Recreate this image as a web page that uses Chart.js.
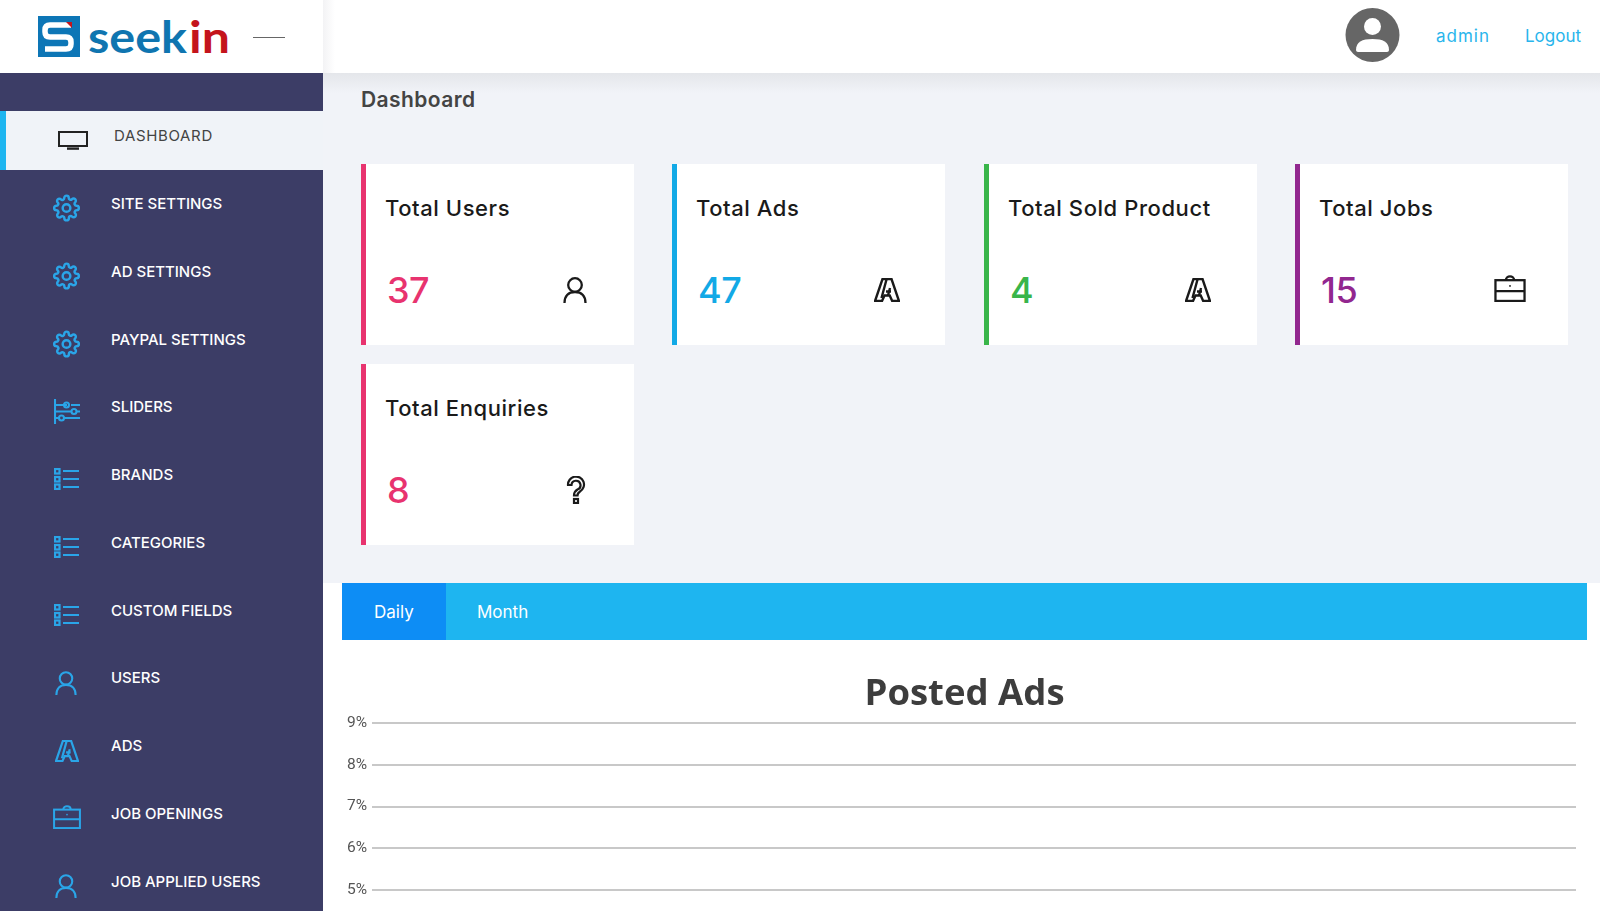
<!DOCTYPE html>
<html><head><meta charset="utf-8"><title>Dashboard</title>
<script src="https://cdn.jsdelivr.net/npm/chart.js@4/dist/chart.umd.min.js"></script>
<style>
html,body{margin:0;padding:0;width:1600px;height:911px;overflow:hidden;background:#f1f3f8;font-family:Inter,"Open Sans",sans-serif}
.a{position:absolute}
.t{position:absolute;white-space:nowrap;transform:translateY(-50%);line-height:1}
#side{left:0;top:73px;width:323px;height:838px;background:#3c3d66}
#head{left:0;top:0;width:1600px;height:73px;background:#fff}
#headshadow{left:323px;top:73px;width:1277px;height:20px;background:linear-gradient(#e4e6ea,#f1f3f8)}
#logoedge{left:323px;top:0;width:12px;height:73px;background:linear-gradient(90deg,#f3f3f5,#fff)}
#active{left:0;top:111px;width:323px;height:59px;background:#f0f3f8}
#accent{left:0;top:111px;width:6px;height:59px;background:#1eb5f0}
.m{color:#fff;font-size:15px;font-weight:500;letter-spacing:0;left:111px}
.card{position:absolute;background:#fff;height:181px;width:273px}
.bar{position:absolute;left:0;top:0;width:5px;height:100%}
.ct{color:#1a1a1a;font-size:22px;font-weight:500;letter-spacing:.57px}
.cn{font-size:36px;font-weight:500;letter-spacing:-.5px}
#panel{left:323px;top:583px;width:1277px;height:328px;background:#fff}
#tabs{left:342px;top:583px;width:1245px;height:57px;background:#1eb5f0}
#tabd{left:342px;top:583px;width:104px;height:57px;background:#0d8df5}
svg.i{position:absolute;overflow:visible}
#wrap{position:absolute;left:342px;top:640px;width:1245px;height:271px}
</style></head><body>
<svg width="0" height="0" style="position:absolute"><defs>
<symbol id="gear" viewBox="0 0 24 24"><circle cx="12" cy="12" r="3.4" fill="none" stroke="currentColor" stroke-width="2.2"/><path fill="none" stroke="currentColor" stroke-width="2.2" d="M19.4 15a1.65 1.65 0 0 0 .33 1.82l.06.06a2 2 0 0 1 0 2.83 2 2 0 0 1-2.83 0l-.06-.06a1.65 1.65 0 0 0-1.82-.33 1.65 1.65 0 0 0-1 1.51V21a2 2 0 0 1-2 2 2 2 0 0 1-2-2v-.09A1.65 1.65 0 0 0 9 19.4a1.65 1.65 0 0 0-1.82.33l-.06.06a2 2 0 0 1-2.83 0 2 2 0 0 1 0-2.83l.06-.06a1.65 1.65 0 0 0 .33-1.82 1.65 1.65 0 0 0-1.51-1H3a2 2 0 0 1-2-2 2 2 0 0 1 2-2h.09A1.65 1.65 0 0 0 4.6 9a1.65 1.65 0 0 0-.33-1.82l-.06-.06a2 2 0 0 1 0-2.83 2 2 0 0 1 2.83 0l.06.06a1.65 1.65 0 0 0 1.82.33H9a1.65 1.65 0 0 0 1-1.51V3a2 2 0 0 1 2-2 2 2 0 0 1 2 2v.09a1.65 1.65 0 0 0 1 1.51 1.65 1.65 0 0 0 1.82-.33l.06-.06a2 2 0 0 1 2.83 0 2 2 0 0 1 0 2.83l-.06.06a1.65 1.65 0 0 0-.33 1.82V9a1.65 1.65 0 0 0 1.51 1H21a2 2 0 0 1 2 2 2 2 0 0 1-2 2h-.09a1.65 1.65 0 0 0-1.51 1z"/></symbol>
<symbol id="monitor" viewBox="0 0 30 19"><rect x="1" y="1" width="28" height="14" fill="none" stroke="currentColor" stroke-width="2"/><path d="M9 17.600h12" stroke="currentColor" stroke-width="2.400"/></symbol>
<symbol id="sliders" viewBox="0 0 26 25"><g fill="none" stroke="currentColor" stroke-width="2.100"><path d="M1 0v25M1 6h12M17 6h9M1 12.500h17M22 12.500h4M1 19h5M10 19h16"/><circle cx="12.500" cy="6" r="2.500"/><circle cx="20" cy="12.500" r="2.500"/><circle cx="7.500" cy="19" r="2.500"/></g></symbol>
<symbol id="list" viewBox="0 0 25 22"><g fill="none" stroke="currentColor" stroke-width="2.200"><rect x="1" y="1" width="4.500" height="4.500"/><rect x="1" y="9" width="4.500" height="4.500"/><rect x="1" y="16.500" width="4.500" height="4.500"/><path d="M9 3h16M9 11h16M9 19h16"/></g></symbol>
<symbol id="user" viewBox="0 0 24 26"><g fill="none" stroke="currentColor" stroke-width="2.300"><circle cx="12" cy="8" r="6.800"/><path d="M1.500 26c0-7 4-11 10.500-11s10.500 4 10.500 11"/></g></symbol>
<symbol id="ad" viewBox="0 0 26 24"><g fill="none" stroke="currentColor" stroke-width="2.400" stroke-linejoin="miter"><path d="M8.500 1h9l7.500 22h-6.800l-2.500-5.500H10.500L8 23H1z"/><path d="M12.500 1.500L7.500 20M16 10l-2 7.500M12 13.500h5"/></g></symbol>
<symbol id="case" viewBox="0 0 30 26"><g fill="none" stroke="currentColor" stroke-width="2.200"><rect x="1" y="5" width="28" height="20"/><path d="M1 15.500h28M11 5c0-5 8-5 8 0"/></g><circle cx="15" cy="10.500" r=".9" fill="currentColor"/></symbol>
<symbol id="q" viewBox="0 0 20 28"><g fill="none" stroke="currentColor" stroke-width="2.200"><path d="M2 9a8 8 0 1 1 12 6.500c-2 1.300-2.500 2-2.500 4h-3.500c0-3.500 1-4.500 3.500-6a4.500 4.500 0 1 0-6-4.500z"/><rect x="8" y="23" width="4" height="4"/></g></symbol>
</defs></svg>

<div class="a" id="head"></div>
<div class="a" id="logoedge"></div>
<div class="a" id="headshadow"></div>
<div class="a" id="side"></div>
<div class="a" id="active"></div>
<div class="a" id="accent"></div>

<svg class="i" style="left:38px;top:16px" width="191" height="42" viewBox="0 0 191 42">
  <rect x="0" y="0" width="42" height="41" fill="#0d76b6"/>
  <path d="M33 9H12Q7 9 7 14V16Q7 21 12 21H28Q33 21 33 26V28Q33 33 28 33H7" fill="none" stroke="#fff" stroke-width="5.500"/>
  <path d="M28 6h6v6z" fill="#c4141c"/>
  <text x="50" y="37" font-family="Lato" font-size="44" font-weight="700" fill="#0f75b0" textLength="99" lengthAdjust="spacingAndGlyphs">seek</text>
  <text x="151" y="37" font-family="Lato" font-size="44" font-weight="700" fill="#c4141c" textLength="41" lengthAdjust="spacingAndGlyphs">in</text>
</svg>
<div class="a" style="left:253px;top:37px;width:32px;height:1px;background:#666"></div>

<svg class="i" style="left:1345px;top:8px" width="55" height="54" viewBox="0 0 55 54"><circle cx="27.500" cy="27" r="27" fill="#666"/><circle cx="27.500" cy="18.500" r="8.500" fill="#fff"/><path d="M11 42c0-8 6-11 16.500-11s16.500 3 16.500 11c0 1-1 2-2 2H13c-1 0-2-1-2-2z" fill="#fff"/></svg>
<div class="t" style="left:1436px;top:36px;color:#29b5ec;font-size:17px;letter-spacing:1px">admin</div>
<div class="t" style="left:1525px;top:36px;color:#29b5ec;font-size:17px">Logout</div>
<div class="t" style="left:361px;top:99px;color:#444;font-size:21px;font-weight:600;letter-spacing:.43px">Dashboard</div>

<div class="a" id="panel"></div>
<div class="a" id="tabs"></div>
<div class="a" id="tabd"></div>
<div class="t" style="left:374px;top:612px;color:#fff;font-size:17px">Daily</div>
<div class="t" style="left:477px;top:612px;color:#fff;font-size:17px">Month</div>
<div id="wrap"><canvas id="c" width="1245" height="271"></canvas></div>

<script>
const menuLabels=["DASHBOARD","SITE SETTINGS","AD SETTINGS","PAYPAL SETTINGS","SLIDERS","BRANDS","CATEGORIES","CUSTOM FIELDS","USERS","ADS","JOB OPENINGS","JOB APPLIED USERS"];
const menuY=[135,203,271,339,406,474,542,610,677,745,813,881];
const menuIcons=[["monitor",58,131,30,19],["gear",53,194,27,28],["gear",53,262,27,28],["gear",53,330,27,28],["sliders",54,399,26,25],["list",54,468,25,22],["list",54,536,25,22],["list",54,604,25,22],["user",55,671,22,24],["ad",55,740,24,22],["case",53,805,28,24],["user",55,874,22,24]];
const cardTitles=["Total Users","Total Ads","Total Sold Product","Total Jobs","Total Enquiries"];
const cardValues=["37","47","4","15","8"];
const cardColors=["#e8336f","#12a9e6","#39b54a","#92278f","#e8336f"];
const cardX=[361,672,984,1295,361];
const cardY=[164,164,164,164,364];
const cardIcons=[["user",563,277,24,26],["ad",874,278,26,24],["ad",1185,278,26,24],["case",1494,275,32,27],["q",566,476,20,28]];
const chartTitle="Posted Ads";
const yTickValues=[5,6,7,8,9];
const yTickSuffix="%";
const xCategories=[];
const postedAds=[];

function icon(d,col){const s=document.createElementNS("http://www.w3.org/2000/svg","svg");s.setAttribute("class","i");s.setAttribute("width",d[3]);s.setAttribute("height",d[4]);s.style.left=d[1]+"px";s.style.top=d[2]+"px";s.style.color=col;s.innerHTML='<use href="#'+d[0]+'"/>';document.body.appendChild(s);}
menuLabels.forEach((l,i)=>{const e=document.createElement("div");e.className="t m";e.textContent=l;e.style.top=menuY[i]+"px";if(i===0){e.style.color="#444";e.style.left="114px";e.style.fontWeight="400";e.style.letterSpacing=".65px";}document.body.appendChild(e);icon(menuIcons[i],i===0?"#222":"#2aa5e8");});
cardTitles.forEach((l,i)=>{const c=document.createElement("div");c.className="card";c.style.left=cardX[i]+"px";c.style.top=cardY[i]+"px";
c.innerHTML='<div class="bar" style="background:'+cardColors[i]+'"></div><div class="t ct" style="left:24px;top:44px"></div><div class="t cn" style="left:26px;top:126px;color:'+cardColors[i]+'"></div>';
c.children[1].textContent=l;c.children[2].textContent=cardValues[i];document.body.appendChild(c);icon(cardIcons[i],"#1a1a1a");});

new Chart(document.getElementById("c"),{type:"line",data:{labels:xCategories,datasets:[{label:chartTitle,data:postedAds}]},
options:{responsive:false,animation:false,
 layout:{padding:{left:11,right:11,top:0,bottom:21}},
 plugins:{legend:{display:false},tooltip:{enabled:false},title:{display:true,text:chartTitle,color:"#3d3d3d",font:{family:"Open Sans",size:36.5,weight:"700",lineHeight:1.2},padding:{top:33,bottom:6.2}}},
 scales:{x:{display:false},y:{min:yTickValues[0],max:yTickValues[yTickValues.length-1],afterBuildTicks(s){s.ticks=yTickValues.map(v=>({value:v}));},afterFit(s){s.width=19;},
  grid:{color:"#c8c8c8",lineWidth:2,drawTicks:false},border:{display:false},
  ticks:{mirror:true,padding:-25,color:"#555",font:{family:"Roboto",size:15.5},callback:v=>v+yTickSuffix}}}}});
</script>
</body></html>
